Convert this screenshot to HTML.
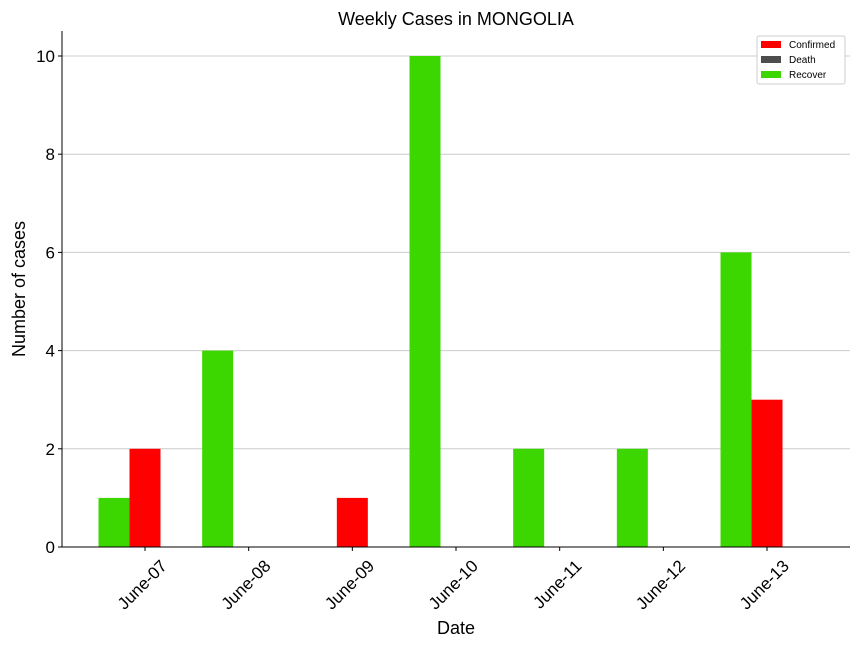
<!DOCTYPE html>
<html><head><meta charset="utf-8"><style>body{margin:0;background:#fff}svg{font-family:"Liberation Sans","DejaVu Sans",sans-serif}</style></head>
<body>
<svg id="c" width="864" height="648"></svg>
<script>
const categories=["June-07","June-08","June-09","June-10","June-11","June-12","June-13"];
const confirmed=[2,0,1,0,0,0,3];
const death=[0,0,0,0,0,0,0];
const recover=[1,4,0,10,2,2,6];
const yTicks=[0,2,4,6,8,10];
const NS="http://www.w3.org/2000/svg";
const svg=document.getElementById('c');
const L=62,R=850,T=31,B=547;
const y=v=>B-v*(491/10);
const x0=145,step=103.67,bw=31;
const x=i=>x0+i*step;
function el(t,a,txt){const e=document.createElementNS(NS,t);for(const k in a)e.setAttribute(k,a[k]);if(txt!==undefined)e.textContent=txt;svg.appendChild(e);return e;}
yTicks.forEach(v=>{
 const g=el('line',{x1:L,x2:R,y1:y(v),y2:y(v),stroke:'#ccc','stroke-width':1});
 
 
 el('line',{x1:L-4,x2:L,y1:y(v),y2:y(v),stroke:'#000'});
 const t=el('text',{x:L-7,y:y(v)+6,'text-anchor':'end','font-size':17},String(v));
 
 
});
categories.forEach((c,i)=>{
 const r=el('rect',{x:x(i)-1.5*bw,y:y(recover[i]),width:bw,height:B-y(recover[i]),fill:'#3cd700'});
 
 
 const cf=el('rect',{x:x(i)-0.5*bw,y:y(confirmed[i]),width:bw,height:B-y(confirmed[i]),fill:'#ff0000'});
 
 
 const d=el('rect',{x:x(i)+0.5*bw,y:y(death[i]),width:bw,height:B-y(death[i]),fill:'#4d4d4d'});
 
 
 el('line',{x1:x(i),x2:x(i),y1:B,y2:B+4,stroke:'#000'});
 const ax=x(i)+23, ay=B+20;
 const t=el('text',{x:ax,y:ay,'text-anchor':'end','font-size':17,transform:`rotate(-45 ${ax} ${ay})`},c);
 
 
});
</script>
<script>
(function(){
const s=document.getElementById('c');
function el(t,a,txt){const e=document.createElementNS("http://www.w3.org/2000/svg",t);for(const k in a)e.setAttribute(k,a[k]);if(txt!==undefined)e.textContent=txt;s.appendChild(e);return e;}
el('line',{x1:62,x2:62,y1:31,y2:547,stroke:'#000'});
el('line',{x1:62,x2:850,y1:547,y2:547,stroke:'#000'});
const ti=el('text',{x:456,y:25,'text-anchor':'middle','font-size':18},'Weekly Cases in MONGOLIA');


const xl=el('text',{x:456,y:634,'text-anchor':'middle','font-size':18},'Date');


const yl=el('text',{x:25,y:289,'text-anchor':'middle','font-size':18,transform:'rotate(-90 25 289)'},'Number of cases');


const lg=el('rect',{x:757,y:36,width:88,height:48,fill:'#fff',stroke:'#ccc',rx:2});


[['Confirmed','#ff0000'],['Death','#4d4d4d'],['Recover','#3cd700']].forEach((e,i)=>{
 const yy=44+i*15;
 el('rect',{x:761,y:yy-3,width:20,height:7,fill:e[1]});
 const t=el('text',{x:789,y:yy+4,'font-size':10},e[0]);
 
 
});
})();
</script>
</body></html>
